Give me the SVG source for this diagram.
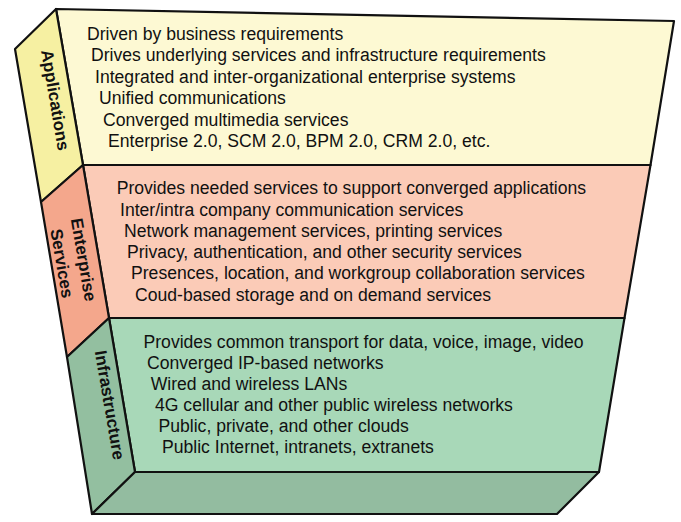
<svg xmlns="http://www.w3.org/2000/svg" width="681" height="522" viewBox="0 0 681 522">
<style>
.face{stroke:#111;stroke-width:2.2;stroke-linejoin:round}
.t{font-family:"Liberation Sans",Arial,sans-serif;font-size:17.6px;fill:#111}
.lbl{font-family:"Liberation Sans",Arial,sans-serif;font-size:17px;font-weight:bold;fill:#111;text-anchor:middle}
</style>
<rect width="681" height="522" fill="#fff"/>
<g id="applications">
<polygon class="face" fill="#FDF9D3" points="56,9 674,21 650.5,165 83,165"/>
<polygon class="face" fill="#F6F0A2" points="15,49 56,9 83,165 41,202"/>
<text class="lbl" transform="translate(55.5,100) rotate(80.3)" y="6">Applications</text>
<text class="t" x="87" y="39.5">Driven by business requirements</text>
<text class="t" x="91" y="61">Drives underlying services and infrastructure requirements</text>
<text class="t" x="95" y="82.5">Integrated and inter-organizational enterprise systems</text>
<text class="t" x="99" y="104">Unified communications</text>
<text class="t" x="103" y="125.5">Converged multimedia services</text>
<text class="t" x="108" y="147">Enterprise 2.0, SCM 2.0, BPM 2.0, CRM 2.0, etc.</text>
</g>
<g id="enterprise-services">
<polygon class="face" fill="#FBCBB7" points="83,165 650.5,165 624.5,318 109,318"/>
<polygon class="face" fill="#F4A78C" points="41,202 83,165 109,318 67,357"/>
<text class="lbl" transform="translate(73,261.5) rotate(80.3)"><tspan x="0" y="-5">Enterprise</tspan><tspan x="0" y="17">Services</tspan></text>
<text class="t" x="116.7" y="194">Provides needed services to support converged applications</text>
<text class="t" x="120" y="215.5">Inter/intra company communication services</text>
<text class="t" x="124" y="236.7">Network management services, printing services</text>
<text class="t" x="127" y="257.5">Privacy, authentication, and other security services</text>
<text class="t" x="131" y="279">Presences, location, and workgroup collaboration services</text>
<text class="t" x="135" y="300.5">Coud-based storage and on demand services</text>
</g>
<g id="infrastructure">
<polygon class="face" fill="#A8D8B8" points="109,318 624.5,318 599,472 135,472"/>
<polygon class="face" fill="#93BFA0" points="67,357 109,318 135,472 92,514"/>
<polygon class="face" fill="#93BCA0" points="135,472 599,472 557,514 92,514"/>
<text class="lbl" transform="translate(110,405) rotate(80.3)" y="6">Infrastructure</text>
<text class="t" x="143.5" y="347.7">Provides common transport for data, voice, image, video</text>
<text class="t" x="147" y="369">Converged IP-based networks</text>
<text class="t" x="150.7" y="389.5">Wired and wireless LANs</text>
<text class="t" x="155" y="411">4G cellular and other public wireless networks</text>
<text class="t" x="158.5" y="431.7">Public, private, and other clouds</text>
<text class="t" x="162" y="453">Public Internet, intranets, extranets</text>
</g>
<g id="connectors"></g>
</svg>
